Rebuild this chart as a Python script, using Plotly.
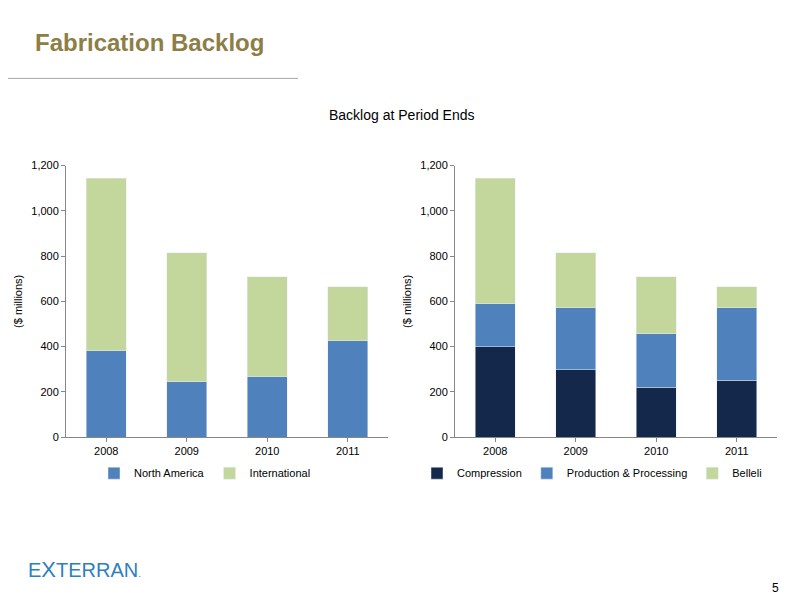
import plotly.graph_objects as go

years = ["2008", "2009", "2010", "2011"]
north_america = [381, 244, 266, 425]
international = [762, 571, 442, 239]
compression = [399, 297, 221, 252]
prod_processing = [190, 274, 235, 319]
belleli = [554, 244, 252, 93]

green = "#C3D69B"
blue = "#4F81BD"
navy = "#14284B"

# map reference pixel positions to paper coords (page is slightly offset/scaled when shot)
def px(x):
    return (x - 8) / 800
def py(y):
    return 1 - ((y - 13.75) / 0.978) / 600

fig = go.Figure()
fig.add_bar(x=years, y=north_america, name="North America", marker_color=blue, xaxis="x", yaxis="y", legend="legend")
fig.add_bar(x=years, y=international, name="International", marker_color=green, xaxis="x", yaxis="y", legend="legend")
fig.add_bar(x=years, y=compression, name="Compression", marker_color=navy, xaxis="x2", yaxis="y2", legend="legend2")
fig.add_bar(x=years, y=prod_processing, name="Production & Processing", marker_color=blue, xaxis="x2", yaxis="y2", legend="legend2")
fig.add_bar(x=years, y=belleli, name="Belleli", marker_color=green, xaxis="x2", yaxis="y2", legend="legend2")

yax = dict(range=[0, 1200], dtick=200, tickformat=",", showgrid=False, showline=True,
           linecolor="#868686", ticks="outside", ticklen=4, tickcolor="#868686",
           title=dict(text="($ millions)", font=dict(size=11), standoff=6), zeroline=False)
xax = dict(showline=True, linecolor="#868686", ticks="outside", ticklen=4, tickcolor="#868686")

fig.update_layout(
    width=800, height=600, barmode="stack", bargap=0.5,
    margin=dict(l=0, r=0, t=0, b=0), plot_bgcolor="white", paper_bgcolor="white",
    font=dict(family="Liberation Sans, Arial, sans-serif", size=11, color="black"),
    xaxis=dict(domain=[px(66), px(388)], anchor="y", **xax),
    yaxis=dict(domain=[py(436), py(165)], anchor="x", **yax),
    xaxis2=dict(domain=[px(455), px(777)], anchor="y2", **xax),
    yaxis2=dict(domain=[py(436), py(165)], anchor="x2", **yax),
    legend=dict(orientation="h", x=px(205), xanchor="center", y=py(472), yanchor="middle",
                font=dict(size=11), itemwidth=30, traceorder="normal"),
    legend2=dict(orientation="h", x=px(592), xanchor="center", y=py(472), yanchor="middle",
                 font=dict(size=11), itemwidth=30, traceorder="normal"),
    annotations=[
        dict(text="<b>Fabrication Backlog</b>", x=px(33), y=py(42), xref="paper", yref="paper",
             xanchor="left", yanchor="middle", showarrow=False,
             font=dict(size=24, color="#8C7E45", family="Liberation Sans")),
        dict(text="Backlog at Period Ends", x=px(402), y=py(105), xref="paper", yref="paper",
             showarrow=False, font=dict(size=14)),
        dict(text="E<span style='font-size:22px'>X</span>TERRAN<span style='font-size:10px'>.</span>",
             x=px(26), y=py(568), xref="paper", yref="paper", xanchor="left", yanchor="middle",
             showarrow=False, font=dict(size=20, color="#2E7FC1", family="Liberation Sans")),
        dict(text="5", x=px(781), y=py(587), xref="paper", yref="paper", xanchor="right",
             yanchor="middle", showarrow=False, font=dict(size=12)),
    ],
    shapes=[dict(type="line", xref="paper", yref="paper", x0=0, x1=px(298), y0=py(78), y1=py(78),
                 line=dict(color="#A6A6A6", width=1))],
)

fig.write_html("out.html")
